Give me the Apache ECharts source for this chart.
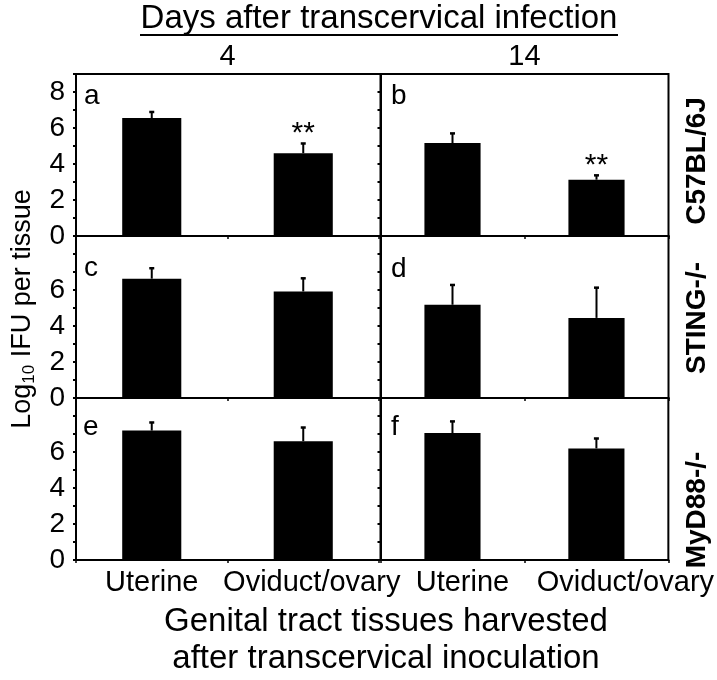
<!DOCTYPE html>
<html>
<head>
<meta charset="utf-8">
<script src="https://cdn.jsdelivr.net/npm/echarts@6/dist/echarts.min.js"></script>
<style>html,body{margin:0;padding:0;background:#fff;}#c{width:717px;height:680px;}</style>
</head>
<body>
<div id="c"></div>
<script>
// ---- data ----
const categories = ['Uterine', 'Oviduct/ovary'];
const dayLabels = ['4', '14'];
const strainLabels = ['C57BL/6J', 'STING-/-', 'MyD88-/-'];
const panelLetters = ['a', 'b', 'c', 'd', 'e', 'f'];
const yTickLabels = [0, 2, 4, 6, 8];

const meanA = [6.55, 4.60]; const errA = [0.34, 0.54]; const sigA = ['', '**'];
const meanB = [5.16, 3.13]; const errB = [0.54, 0.24]; const sigB = ['', '**'];
const meanC = [6.63, 5.92]; const errC = [0.58, 0.73]; const sigC = ['', ''];
const meanD = [5.18, 4.45]; const errD = [1.10, 1.68]; const sigD = ['', ''];
const meanE = [7.19, 6.60]; const errE = [0.45, 0.76]; const sigE = ['', ''];
const meanF = [7.05, 6.20]; const errF = [0.65, 0.55]; const sigF = ['', ''];

const means = [meanA, meanB, meanC, meanD, meanE, meanF];
const errs = [errA, errB, errC, errD, errE, errF];
const sigs = [sigA, sigB, sigC, sigD, sigE, sigF];

// ---- layout ----
const FONT = 'Liberation Sans, Arial, Helvetica, sans-serif';
const colLeft = [76, 380.5];
const colWidth = [303, 288];
const rowTop = [74, 236, 398];
const rowH = 162;
const letterPos = [[84, 82], [391, 82], [84, 254], [391, 255], [83, 413], [391, 413]];
const strainY = [161, 318, 510];
const catLabelPad = [[0, 17], [20, 58]]; // left padding per column / category (label offsets)

const chart = echarts.init(document.getElementById('c'), null, {renderer: 'canvas'});

const grid = [], xAxis = [], yAxis = [], series = [];
for (let r = 0; r < 3; r++) {
  for (let c = 0; c < 2; c++) {
    const i = r * 2 + c;
    grid.push({
      left: colLeft[c], top: rowTop[r], width: colWidth[c], height: rowH,
      show: c === 1, borderColor: '#000', borderWidth: 2, backgroundColor: 'transparent'
    });
    const rich = {};
    categories.forEach((cat, k) => {
      rich['k' + k] = {fontSize: 29, fontFamily: FONT, color: '#000', padding: [0, 0, 0, catLabelPad[c][k]]};
    });
    xAxis.push({
      type: 'category', gridIndex: i, data: categories, boundaryGap: true,
      axisLine: {show: true, lineStyle: {color: '#000', width: 2}},
      axisTick: {show: true, length: 3, lineStyle: {color: '#000', width: 1.5}},
      axisLabel: {
        show: r === 2, interval: 0, hideOverlap: false, color: '#000', fontSize: 29, fontFamily: FONT, margin: 8,
        formatter: function (v, idx) { return '{k' + idx + '|' + v + '}'; },
        rich: rich
      },
      splitLine: {show: false}
    });
    const ya = {
      type: 'value', gridIndex: i, min: 0, max: 9, interval: 1,
      axisLine: {show: true, lineStyle: {color: '#000', width: 2}},
      axisTick: {show: true, length: 3, lineStyle: {color: '#000', width: 2}},
      axisLabel: {
        show: c === 0, color: '#000', fontSize: 28, fontFamily: FONT, margin: 11,
        formatter: function (v) {
          const allowed = r === 0 ? yTickLabels : yTickLabels.slice(0, 4);
          return allowed.indexOf(v) >= 0 ? String(v) : '';
        }
      },
      splitLine: {show: false}
    };
    if (i === 2) {
      ya.name = '{n|Log}{s|10}{n| IFU per tissue}';
      ya.nameLocation = 'middle';
      ya.nameRotate = 90;
      ya.nameGap = 38;
      ya.nameTextStyle = {
        color: '#000', fontFamily: FONT, padding: [0, 0, 0, 16],
        rich: {
          n: {fontSize: 27, fontFamily: FONT, color: '#000', lineHeight: 31},
          s: {fontSize: 17, fontFamily: FONT, color: '#000', verticalAlign: 'bottom'}
        }
      };
    }
    yAxis.push(ya);
    series.push({
      type: 'bar', xAxisIndex: i, yAxisIndex: i, barWidth: '39%',
      itemStyle: {color: '#000'}, data: means[i], silent: true, z: 2
    });
    const sig = sigs[i];
    series.push({
      type: 'custom', xAxisIndex: i, yAxisIndex: i, z: 3, silent: true,
      data: means[i].map((m, k) => [k, m, errs[i][k]]),
      renderItem: function (params, api) {
        const x = api.value(0), v = api.value(1), e = api.value(2);
        const p0 = api.coord([x, v]);
        const p1 = api.coord([x, v + e]);
        const children = [
          {type: 'line', shape: {x1: p0[0], y1: p0[1], x2: p1[0], y2: p1[1]}, style: {stroke: '#000', lineWidth: 2}},
          {type: 'line', shape: {x1: p1[0] - 2.5, y1: p1[1], x2: p1[0] + 2.5, y2: p1[1]}, style: {stroke: '#000', lineWidth: 2.5}}
        ];
        const s = sig[params.dataIndex];
        if (s) {
          children.push({type: 'text', style: {text: s, x: p1[0], y: p1[1] - 10, align: 'center', verticalAlign: 'middle', fontSize: 30, fontFamily: FONT, fill: '#000'}});
        }
        return {type: 'group', children: children};
      }
    });
  }
}
// top border for the left column of the top row
xAxis.push({
  type: 'category', gridIndex: 0, position: 'top', data: categories,
  axisLine: {show: true, lineStyle: {color: '#000', width: 2}},
  axisTick: {show: false}, axisLabel: {show: false}
});

const graphic = [];
graphic.push({type: 'text', style: {text: 'Days after transcervical infection', x: 379, y: 18.5, align: 'center', verticalAlign: 'middle', fontSize: 33, fontFamily: FONT, fill: '#000'}});
graphic.push({type: 'line', shape: {x1: 140, y1: 35, x2: 618, y2: 35}, style: {stroke: '#000', lineWidth: 2}});
for (let c = 0; c < 2; c++) {
  graphic.push({type: 'text', style: {text: dayLabels[c], x: colLeft[c] + colWidth[c] / 2, y: 57, align: 'center', verticalAlign: 'middle', fontSize: 29, fontFamily: FONT, fill: '#000'}});
}
for (let r = 0; r < 3; r++) {
  graphic.push({type: 'text', x: 697, y: strainY[r], rotation: Math.PI / 2,
    style: {text: strainLabels[r], x: 0, y: 0, align: 'center', verticalAlign: 'middle', fontSize: 28, fontWeight: 'bold', fontFamily: FONT, fill: '#000'}});
}
for (let i = 0; i < 6; i++) {
  graphic.push({type: 'text', style: {text: panelLetters[i], x: letterPos[i][0], y: letterPos[i][1], align: 'left', verticalAlign: 'top', fontSize: 28, fontFamily: FONT, fill: '#000'}});
}
graphic.push({type: 'text', style: {text: 'Genital tract tissues harvested', x: 386, y: 622, align: 'center', verticalAlign: 'middle', fontSize: 33, fontFamily: FONT, fill: '#000'}});
graphic.push({type: 'text', style: {text: 'after transcervical inoculation', x: 386, y: 659, align: 'center', verticalAlign: 'middle', fontSize: 33, fontFamily: FONT, fill: '#000'}});

chart.setOption({
  animation: false,
  backgroundColor: '#fff',
  grid: grid, xAxis: xAxis, yAxis: yAxis, series: series, graphic: graphic
});
</script>
</body>
</html>
